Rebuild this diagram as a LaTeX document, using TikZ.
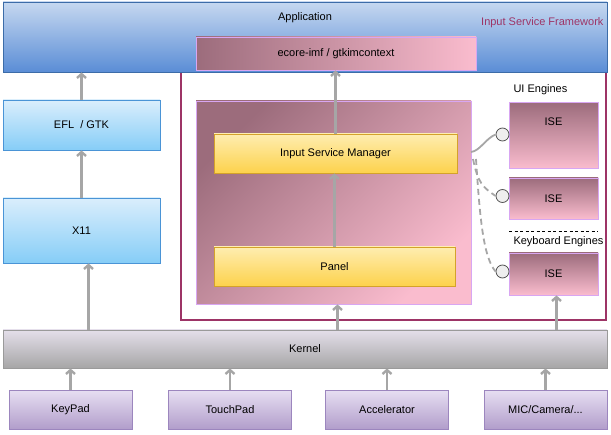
\documentclass[tikz,border=0pt]{standalone}
\usepackage{fontspec}
\setmainfont{Liberation Sans}
\usepackage{tikz}
\usetikzlibrary{shapes.geometric, arrows, arrows.meta}
\definecolor{apptop}{HTML}{C6D8F0}
\definecolor{appbottom}{HTML}{5A8DD6}
\definecolor{appborder}{HTML}{3C6CA8}
\definecolor{efltop}{HTML}{DAEEFC}
\definecolor{eflbottom}{HTML}{86CDF7}
\definecolor{eflborder}{HTML}{4A94D6}
\definecolor{mauvedark}{HTML}{9C6C7C}
\definecolor{mauvelight}{HTML}{FABCCE}
\definecolor{mauveborder}{HTML}{D8A6F2}
\definecolor{yellowtop}{HTML}{FEEDB0}
\definecolor{yellowbottom}{HTML}{FDD24C}
\definecolor{yellowborder}{HTML}{D4A22A}
\definecolor{kerneltop}{HTML}{E4DFEA}
\definecolor{kernelbottom}{HTML}{A6A6A6}
\definecolor{kernelborder}{HTML}{9A9A9A}
\definecolor{devtop}{HTML}{E6DEF1}
\definecolor{devbottom}{HTML}{B19DCB}
\definecolor{devborder}{HTML}{9C86BE}
\definecolor{framecol}{HTML}{9D3466}
\definecolor{arrowgray}{HTML}{A6A6A6}
\definecolor{plugfill}{HTML}{EEEEEE}
\definecolor{plugborder}{HTML}{555555}
\tikzstyle{box} = [rectangle, line width=0.8pt, inner sep=0pt, text centered]
\tikzstyle{appbox} = [box, draw=appborder, top color=apptop, bottom color=appbottom]
\tikzstyle{bluebox} = [box, draw=eflborder, top color=efltop, bottom color=eflbottom]
\tikzstyle{imfbox} = [box, draw=mauveborder, left color=mauvedark, right color=mauvelight]
\tikzstyle{isfbox} = [box, draw=mauveborder, top color=mauvedark, bottom color=mauvelight, shading angle=45]
\tikzstyle{isebox} = [box, draw=mauveborder, top color=mauvedark, bottom color=mauvelight]
\tikzstyle{yellowbox} = [box, draw=yellowborder, top color=yellowtop, bottom color=yellowbottom]
\tikzstyle{kernelbox} = [box, draw=kernelborder, top color=kerneltop, bottom color=kernelbottom]
\tikzstyle{devbox} = [box, draw=devborder, top color=devtop, bottom color=devbottom, minimum width=123, minimum height=39]
\tikzstyle{frame} = [rectangle, draw=framecol, line width=2pt, inner sep=0pt]
\tikzstyle{plug} = [circle, draw=plugborder, fill=plugfill, line width=0.8pt, minimum size=13, inner sep=0pt]
\tikzstyle{arrow} = [line width=2.4pt, draw=arrowgray, -{Straight Barb[length=4pt, width=9pt]}]
\tikzstyle{link} = [line width=1.8pt, draw=arrowgray]

\begin{document}
\begin{tikzpicture}[x=1pt, y=1pt, font=\fontsize{11}{13}\selectfont]
    \useasboundingbox (0,0) rectangle (611,-435);

    % framework frame, partly under the application
    \node (framework) [frame, minimum width=425, minimum height=288] at (393.5,-176) {};

    \node (app) [appbox, minimum width=604, minimum height=70] at (305,-37) {};
    \node (apptext) at (305,-18) {Application};
    \node (isflabel) [anchor=east, text=framecol] at (607,-23) {Input Service Framework};
    \node (imf) [imfbox, minimum width=280, minimum height=33] at (336,-53.5) {ecore-imf / gtkimcontext};

    % left stack
    \node (efl) [bluebox, minimum width=157, minimum height=50] at (81.5,-125) {EFL \ / GTK};
    \node (x11) [bluebox, minimum width=157, minimum height=65] at (81.5,-230.5) {X11};

    % input service framework
    \node (isf) [isfbox, minimum width=275, minimum height=203] at (333.5,-202.5) {};
    \node (ism) [yellowbox, minimum width=243, minimum height=39] at (335.5,-153.5) {Input Service Manager};
    \node (panel) [yellowbox, minimum width=241, minimum height=39] at (334.5,-266.5) {Panel};

    % engines
    \node (uilabel) [anchor=west] at (510,-90) {UI Engines};
    \node (ise1) [isebox, minimum width=89, minimum height=66] at (553.5,-135.5) {};
    \node (ise1text) at (553.5,-122) {ISE};
    \node (ise2) [isebox, minimum width=89, minimum height=41] at (553.5,-198.5) {ISE};
    \coordinate (sepleft) at (509,-231);
    \coordinate (sepright) at (598,-231);
    \draw [dashed, line width=0.7pt, dash pattern=on 3pt off 2.5pt] (sepleft) -- (sepright);
    \node (kblabel) [anchor=west] at (510,-242) {Keyboard Engines};
    \node (ise3) [isebox, minimum width=89, minimum height=42] at (553.5,-274) {ISE};

    \node (plug1) [plug] at (502.5,-134.5) {};
    \node (plug2) [plug] at (502.5,-196) {};
    \node (plug3) [plug] at (502.5,-271.5) {};

    \coordinate (port1) at (471,-152);
    \coordinate (port2) at (473,-159);
    \coordinate (port3) at (476,-159);
    \draw [link] (port1) .. controls +(9,1) and +(-10,-4) .. (plug1.west);
    \draw [link, dash pattern=on 6pt off 4pt] (port2) .. controls +(5,-24) and +(-13,9) .. (plug2.west);
    \draw [link, dash pattern=on 6pt off 4pt] (port3) .. controls +(4,-62) and +(-12,14) .. (plug3.west);

    % kernel and devices
    \node (kernel) [kernelbox, minimum width=604, minimum height=38] at (305,-349) {Kernel};
    \node (keypad) [devbox] at (70.5,-410) {KeyPad};
    \node (touchpad) [devbox] at (230,-410) {TouchPad};
    \node (accel) [devbox] at (387,-410) {Accelerator};
    \node (mic) [devbox] at (545.5,-410) {MIC/Camera/...};

    \draw [arrow] (efl.north) -- (app.south -| efl.north);
    \draw [arrow] (x11.north) -- (efl.south);
    \draw [arrow] ([xshift=7]kernel.north -| x11.south) -- ([xshift=7]x11.south);
    \draw [arrow] (ism.north) -- (imf.south -| ism.north);
    \draw [arrow] (panel.north) -- (ism.south -| panel.north);
    \draw [arrow] ([xshift=4]kernel.north -| isf.south) -- ([xshift=4]isf.south);
    \draw [arrow] ([xshift=3]kernel.north -| ise3.south) -- ([xshift=3]ise3.south);
    \draw [arrow] (keypad.north) -- (kernel.south -| keypad.north);
    \draw [arrow] (touchpad.north) -- (kernel.south -| touchpad.north);
    \draw [arrow] (accel.north) -- (kernel.south -| accel.north);
    \draw [arrow] (mic.north) -- (kernel.south -| mic.north);
\end{tikzpicture}
\end{document}
